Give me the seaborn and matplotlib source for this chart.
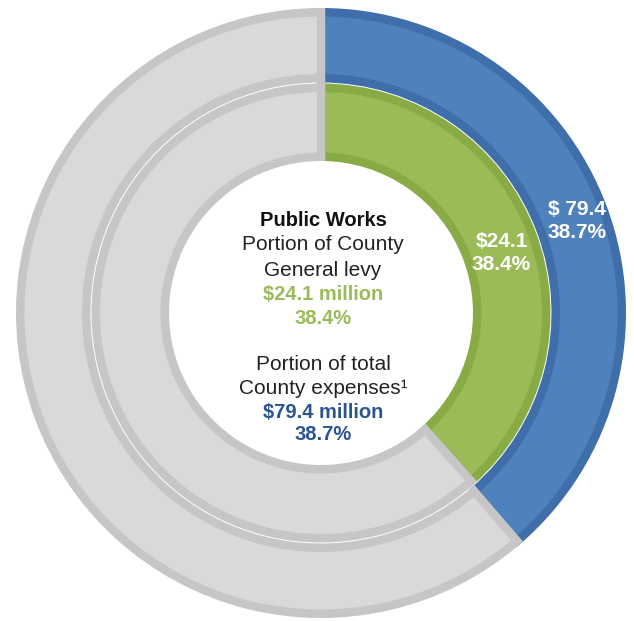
import numpy as np
import matplotlib
matplotlib.use("Agg")
import matplotlib.pyplot as plt
import seaborn as sns

# Public Works share of the County budget
segments = ["Public Works", "All other"]
levy_share = [38.4, 61.6]        # % of County General levy
expense_share = [38.7, 61.3]     # % of total County expenses
levy_amount = 24.1               # $ million
expense_amount = 79.4            # $ million

sns.set_theme(style="white")
plt.rcParams["font.family"] = ["Liberation Sans", "DejaVu Sans"]

fills_outer = ["#4F81BD", "#D9D9D9"]
edges_outer = ["#3F6EAA", "#C6C6C6"]
fills_inner = ["#9BBB59", "#D9D9D9"]
edges_inner = ["#89AB46", "#C6C6C6"]
green_txt = "#9BBB59"
blue_txt = "#2B5592"

W, H = 634, 621
fig = plt.figure(figsize=(W / 100, H / 100), dpi=100)
ax = fig.add_axes([0, 0, 1, 1])

cx, cy = 321, H - 313          # ring centre (pixel units, y up)
r_out, r_mid, r_in = 305, 230, 152
border = 8.5                   # px
lw = border * 72 / 100


def ring(values, r_outer, r_inner, fills, edges):
    wedges, _ = ax.pie(values, radius=r_outer - border / 2, center=(cx, cy),
                       startangle=90, counterclock=False, colors=fills,
                       wedgeprops=dict(width=(r_outer - r_inner) - border,
                                       linewidth=lw))
    for w, ec in zip(wedges, edges):
        w.set_edgecolor(ec)
        w.set_joinstyle("miter")
    return wedges


ring(expense_share, r_out, r_mid + 0.5, fills_outer, edges_outer)
ring(levy_share, r_mid - 0.5, r_in, fills_inner, edges_inner)

ax.set_xlim(0, W)
ax.set_ylim(0, H)
ax.set_aspect("equal")
ax.axis("off")


def seg_label(share, rad, lines, dx=0, dy=0):
    ang = np.deg2rad(90 - share * 3.6 / 2)
    x = cx + rad * np.cos(ang) + dx
    y = cy + rad * np.sin(ang) + dy
    ax.text(x, y, "\n".join(lines), ha="center", va="center", color="white",
            fontsize=15, fontweight="bold", linespacing=1.25)


seg_label(expense_share[0], (r_out + r_mid) / 2,
          [f"$ {expense_amount:.1f}", f"{expense_share[0]:.1f}%"], dx=5, dy=-1)
seg_label(levy_share[0], (r_mid + r_in) / 2,
          [f"${levy_amount:.1f}", f"{levy_share[0]:.1f}%"], dx=2, dy=-8)

# centre annotation
center_lines = [
    ("Public Works", 220, "#111111", "bold"),
    ("Portion of County", 245, "#222222", "normal"),
    ("General levy", 270, "#222222", "normal"),
    (f"${levy_amount:.1f} million", 295, green_txt, "bold"),
    (f"{levy_share[0]:.1f}%", 319, green_txt, "bold"),
    ("Portion of total", 364, "#222222", "normal"),
    ("County expenses\u00b9", 388, "#222222", "normal"),
    (f"${expense_amount:.1f} million", 412, blue_txt, "bold"),
    (f"{expense_share[0]:.1f}%", 435, blue_txt, "bold"),
]
for txt, ypx, col, wt in center_lines:
    ax.text(cx + 2, H - ypx, txt, ha="center", va="center", color=col,
            fontsize=15 if wt == "normal" else 14.5, fontweight=wt)

fig.savefig("out.png", dpi=100, facecolor="white")
